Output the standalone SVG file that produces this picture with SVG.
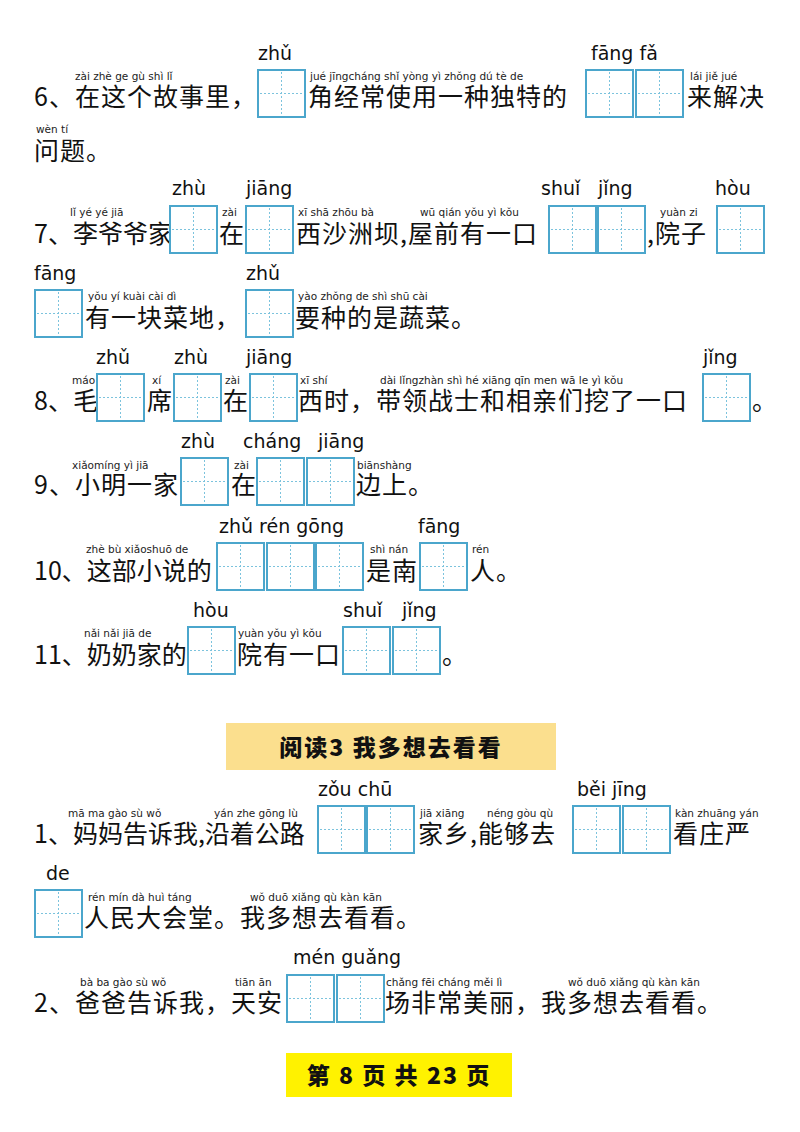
<svg xmlns="http://www.w3.org/2000/svg" width="800" height="1132" viewBox="0 0 800 1132">
<style>
.t{font-family:"Noto Sans CJK SC",sans-serif;font-size:25px;fill:#111;letter-spacing:1px}
.z{letter-spacing:0}
.p{font-family:"DejaVu Sans",sans-serif;font-size:10.5px;fill:#222}
.b{font-family:"DejaVu Sans",sans-serif;font-size:19px;fill:#111}
.h{font-family:"Noto Sans CJK SC",sans-serif;font-size:23px;font-weight:900;fill:#111;letter-spacing:2px}
</style>
<defs>
<g id="bx"><rect x="0" y="0" width="47" height="47" fill="#fff" stroke="#4ba6cc" stroke-width="2"/><path d="M23.5 2V45M2 23.5H45" stroke="#7cc3dd" stroke-width="1" stroke-dasharray="2,2"/></g>
</defs>
<rect width="800" height="1132" fill="#fff"/>
<!-- 6 -->
<text class="b" x="258" y="60">zhǔ</text><text class="b" x="591" y="60">fāng fǎ</text>
<text class="p" x="75" y="80">zài zhè ge gù shì lǐ</text><text class="p" x="310" y="80">jué jīngcháng shǐ yòng yì zhǒng dú tè de</text><text class="p" x="690" y="80">lái jiě jué</text>
<text class="t" x="34" y="106">6、在这个故事里，</text><text class="t" x="308" y="106" letter-spacing="2">角经常使用一种独特的</text><text class="t" x="687" y="106">来解决</text>
<use href="#bx" x="258" y="70"/><use href="#bx" x="586" y="70"/><use href="#bx" x="636" y="70"/>
<text class="p" x="36" y="133">wèn tí</text><text class="t" x="34" y="160">问题。</text>
<!-- 7 -->
<text class="b" x="172" y="195">zhù</text><text class="b" x="246" y="195">jiāng</text><text class="b" x="541" y="195">shuǐ</text><text class="b" x="598" y="195">jǐng</text><text class="b" x="715" y="195">hòu</text>
<text class="p" x="70" y="216">lǐ yé yé jiā</text><text class="p" x="222" y="216">zài</text><text class="p" x="298" y="216">xī shā zhōu bà</text><text class="p" x="420" y="216">wū qián yǒu yì kǒu</text><text class="p" x="660" y="216">yuàn zi</text>
<text class="t z" x="34" y="243">7、李爷爷家</text><text class="t" x="219" y="243">在</text><text class="t" x="296" y="243" letter-spacing="2">西沙洲坝,屋前有一口</text><text class="t" x="647" y="243">,院子</text>
<use href="#bx" x="170" y="206"/><use href="#bx" x="246" y="206"/><use href="#bx" x="549" y="206"/><use href="#bx" x="598" y="206"/><use href="#bx" x="717" y="206"/>
<text class="b" x="34" y="280">fāng</text><text class="b" x="246" y="280">zhǔ</text>
<text class="p" x="88" y="300">yǒu yí kuài cài dì</text><text class="p" x="298" y="300">yào zhǒng de shì shū cài</text>
<text class="t" x="85" y="327">有一块菜地，</text><text class="t" x="295" y="327">要种的是蔬菜。</text>
<use href="#bx" x="35" y="290"/><use href="#bx" x="246" y="290"/>
<!-- 8 -->
<text class="b" x="96" y="364">zhǔ</text><text class="b" x="174" y="364">zhù</text><text class="b" x="246" y="364">jiāng</text><text class="b" x="703" y="364">jǐng</text>
<text class="p" x="72" y="384">máo</text><text class="p" x="152" y="384">xí</text><text class="p" x="225" y="384">zài</text><text class="p" x="300" y="384">xī shí</text><text class="p" x="380" y="384">dài lǐngzhàn shì hé xiāng qīn men wā le yì kǒu</text>
<text class="t z" x="34" y="410">8、毛</text><text class="t" x="147" y="410">席</text><text class="t" x="223" y="410">在</text><text class="t" x="298" y="410" letter-spacing="1.5">西时，带领战士和相亲们挖了一口</text><text class="t" x="752" y="410">。</text>
<use href="#bx" x="97" y="374"/><use href="#bx" x="174" y="374"/><use href="#bx" x="250" y="374"/><use href="#bx" x="703" y="374"/>
<!-- 9 -->
<text class="b" x="181" y="448">zhù</text><text class="b" x="243" y="448">cháng</text><text class="b" x="318" y="448">jiāng</text>
<text class="p" x="72" y="469">xiǎomíng yì jiā</text><text class="p" x="234" y="469">zài</text><text class="p" x="357" y="469">biānshàng</text>
<text class="t" x="34" y="494">9、小明一家</text><text class="t" x="231" y="494">在</text><text class="t" x="356" y="494">边上。</text>
<use href="#bx" x="181" y="458"/><use href="#bx" x="257" y="458"/><use href="#bx" x="307" y="458"/>
<!-- 10 -->
<text class="b" x="219" y="533">zhǔ rén gōng</text><text class="b" x="418" y="533">fāng</text>
<text class="p" x="86" y="553">zhè bù xiǎoshuō de</text><text class="p" x="370" y="553">shì nán</text><text class="p" x="472" y="553">rén</text>
<text class="t z" x="34" y="580">10、这部小说的</text><text class="t" x="366" y="580">是南</text><text class="t" x="470" y="580">人。</text>
<use href="#bx" x="217" y="543"/><use href="#bx" x="267" y="543"/><use href="#bx" x="316" y="543"/><use href="#bx" x="420" y="543"/>
<!-- 11 -->
<text class="b" x="193" y="617">hòu</text><text class="b" x="343" y="617">shuǐ</text><text class="b" x="402" y="617">jǐng</text>
<text class="p" x="84" y="637">nǎi nǎi jiā de</text><text class="p" x="238" y="637">yuàn yǒu yì kǒu</text>
<text class="t z" x="34" y="664">11、奶奶家的</text><text class="t" x="237" y="664">院有一口</text><text class="t" x="442" y="664">。</text>
<use href="#bx" x="188" y="627"/><use href="#bx" x="343" y="627"/><use href="#bx" x="393" y="627"/>
<!-- header -->
<rect x="226" y="723" width="330" height="47" fill="#fbdf8e"/>
<text class="h" x="391" y="756" text-anchor="middle">阅读3 我多想去看看</text>
<!-- Q1 -->
<text class="b" x="318" y="796">zǒu chū</text><text class="b" x="577" y="796">běi jīng</text>
<text class="p" x="68" y="817">mā ma gào sù wǒ</text><text class="p" x="214" y="817">yán zhe gōng lù</text><text class="p" x="420" y="817">jiā xiāng</text><text class="p" x="487" y="817">néng gòu qù</text><text class="p" x="675" y="817">kàn zhuāng yán</text>
<text class="t z" x="34" y="843">1、妈妈告诉我,沿着公路</text><text class="t" x="418" y="843" letter-spacing="4">家乡,能够去</text><text class="t" x="673" y="843" letter-spacing="6">看庄严</text>
<use href="#bx" x="318" y="806"/><use href="#bx" x="367" y="806"/><use href="#bx" x="573" y="806"/><use href="#bx" x="623" y="806"/>
<text class="b" x="46" y="880">de</text>
<text class="p" x="88" y="901">rén mín dà huì táng</text><text class="p" x="250" y="901">wǒ duō xiǎng qù kàn kān</text>
<text class="t" x="84" y="927">人民大会堂。我多想去看看。</text>
<use href="#bx" x="35" y="890"/>
<!-- Q2 -->
<text class="b" x="293" y="964">mén guǎng</text>
<text class="p" x="80" y="986">bà ba gào sù wǒ</text><text class="p" x="235" y="986">tiān ān</text><text class="p" x="386" y="986">chǎng fēi cháng měi lì</text><text class="p" x="568" y="986">wǒ duō xiǎng qù kàn kān</text>
<text class="t" x="34" y="1012">2、爸爸告诉我，天安</text><text class="t" x="385" y="1012">场非常美丽，我多想去看看。</text>
<use href="#bx" x="287" y="975"/><use href="#bx" x="337" y="975"/>
<!-- footer -->
<rect x="286" y="1053" width="226" height="44" fill="#fff200"/>
<text class="h" x="399" y="1084" text-anchor="middle" font-size="21">第 8 页 共 23 页</text>
</svg>
